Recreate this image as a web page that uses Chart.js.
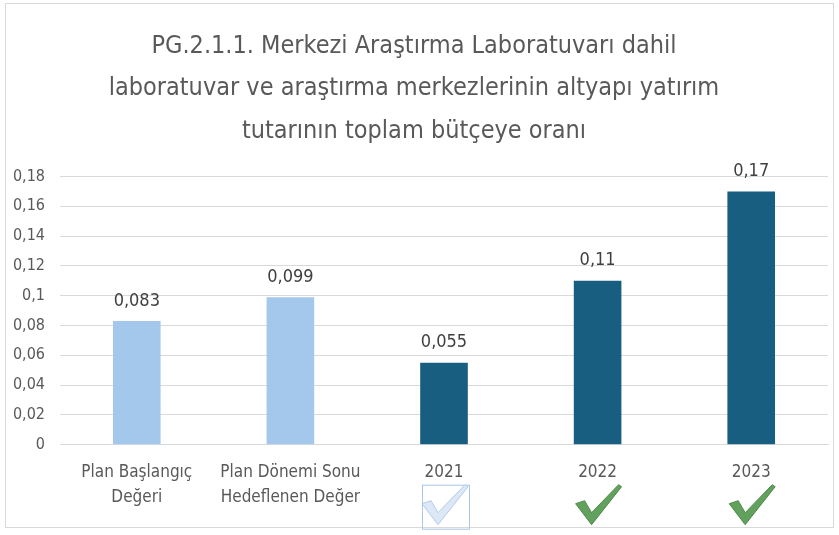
<!DOCTYPE html>
<html>
<head>
<meta charset="utf-8">
<script src="https://cdn.jsdelivr.net/npm/chart.js@4"></script>
<style>
  body { margin: 0; background: #fff; }
  #frame { position: absolute; left: 5px; top: 3px; width: 827px; height: 523px; border: 1px solid #d9d9d9; }
  #wrap { position: absolute; left: 0; top: 0; width: 839px; height: 535px; }
</style>
</head>
<body>
<div id="frame"></div>
<div id="wrap"><canvas id="chart"></canvas></div>
<script>
// chart data
const categories = [['Plan Başlangıç', 'Değeri'], ['Plan Dönemi Sonu', 'Hedeflenen Değer'], '2021', '2022', '2023'];
const values = [0.083, 0.099, 0.055, 0.11, 0.17];
const barColors = ['#a4c8ec', '#a4c8ec', '#175e80', '#175e80', '#175e80'];
// check mark under each category: null = none, 'faded' = light, 'ok' = green
const checks = [null, null, 'faded', 'ok', 'ok'];
const yTicks = [0, 0.02, 0.04, 0.06, 0.08, 0.1, 0.12, 0.14, 0.16, 0.18];

const FONT = '"Liberation Sans Narrow", "DejaVu Sans Condensed", "Open Sans", sans-serif';

function trFormat(v) {
  return String(+v.toFixed(3)).replace('.', ',');
}

// numbers above the bars
const barLabels = {
  id: 'barLabels',
  afterDatasetsDraw(chart) {
    const ctx = chart.ctx;
    const meta = chart.getDatasetMeta(0);
    ctx.save();
    ctx.font = '18px ' + FONT;
    ctx.fillStyle = '#404040';
    ctx.textAlign = 'center';
    ctx.textBaseline = 'bottom';
    meta.data.forEach((bar, i) => {
      ctx.fillText(trFormat(values[i]), bar.x, bar.y - 11);
    });
    ctx.restore();
  }
};

// check marks below the year labels
const checkMarks = {
  id: 'checkMarks',
  afterDraw(chart) {
    const ctx = chart.ctx;
    const xs = chart.scales.x;
    const top = chart.chartArea.bottom + 39;
    ctx.save();
    checks.forEach((c, i) => {
      if (!c) return;
      const cx = xs.getPixelForValue(i);
      if (c === 'faded') {
        ctx.strokeStyle = '#a9c6e6';
        ctx.lineWidth = 1;
        ctx.strokeRect(cx - 21.5, top + 1.5, 47, 44);
      }
      ctx.beginPath();
      ctx.moveTo(cx - 22, top + 20);
      ctx.lineTo(cx - 13, top + 17);
      ctx.lineTo(cx - 6, top + 29);
      ctx.lineTo(cx + 21, top + 1);
      ctx.lineTo(cx + 24, top + 3);
      ctx.lineTo(cx - 6, top + 41);
      ctx.closePath();
      if (c === 'faded') {
        ctx.fillStyle = '#dce8f6';
        ctx.strokeStyle = '#b3cbe8';
      } else {
        ctx.fillStyle = '#62a05d';
        ctx.strokeStyle = '#4f8a4b';
      }
      ctx.lineJoin = 'round';
      ctx.fill();
      ctx.stroke();
    });
    ctx.restore();
  }
};

new Chart(document.getElementById('chart'), {
  type: 'bar',
  data: {
    labels: categories,
    datasets: [{
      data: values,
      backgroundColor: barColors,
      categoryPercentage: 1,
      barPercentage: 0.31
    }]
  },
  options: {
    responsive: true,
    maintainAspectRatio: false,
    animation: false,
    layout: { padding: { left: 0, right: 11, top: 10, bottom: 17 } },
    plugins: {
      legend: { display: false },
      tooltip: { enabled: false },
      title: {
        display: true,
        text: ['PG.2.1.1. Merkezi Araştırma Laboratuvarı dahil',
               'laboratuvar ve araştırma merkezlerinin altyapı yatırım',
               'tutarının toplam bütçeye oranı'],
        color: '#595959',
        font: { family: FONT, size: 25, weight: 'normal', lineHeight: 1.7 },
        padding: { top: 15, bottom: 24 }
      }
    },
    scales: {
      y: {
        min: 0,
        max: 0.18,
        afterBuildTicks(axis) { axis.ticks = yTicks.map(v => ({ value: v })); },
        afterFit(axis) { axis.width = 60; },
        ticks: {
          color: '#595959',
          font: { family: FONT, size: 16 },
          padding: 15,
          callback: v => trFormat(v)
        },
        grid: { color: '#d9d9d9', drawTicks: false },
        border: { display: false }
      },
      x: {
        ticks: {
          color: '#595959',
          font: { family: FONT, size: 17, lineHeight: 1.45 },
          padding: 8,
          maxRotation: 0,
          autoSkip: false
        },
        grid: { display: false },
        border: { color: '#d9d9d9' }
      }
    }
  },
  plugins: [barLabels, checkMarks]
});
</script>
</body>
</html>
